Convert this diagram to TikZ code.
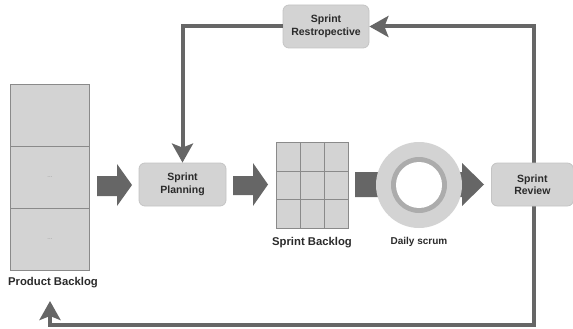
\documentclass[tikz,border=0pt]{standalone}
\usepackage{fontspec}
\setmainfont{Liberation Sans}
\usetikzlibrary{arrows.meta}
\definecolor{boxfill}{HTML}{D3D3D3}
\definecolor{boxline}{HTML}{C4C4C4}
\definecolor{darkg}{HTML}{666666}
\definecolor{gridline}{HTML}{8A8A8A}
\definecolor{txt}{HTML}{2A2A2A}
\tikzset{
  stepbox/.style={draw=boxline, fill=boxfill, rounded corners=6pt, line width=0.8pt,
    text=txt, font=\bfseries\fontsize{10.5}{12.5}\selectfont, align=center, inner sep=0pt},
  lbl/.style={text=txt, font=\bfseries\fontsize{11.3}{13}\selectfont, inner sep=0pt},
  loopline/.style={draw=darkg, line width=4pt, -{Stealth[length=19pt,width=21pt,inset=4pt]}},
  blockarrow/.style={fill=darkg},
  cell/.style={draw=gridline, fill=boxfill, line width=0.8pt},
  dots/.style={text=gray!85, font=\fontsize{6}{7}\selectfont}
}
\begin{document}
\begin{tikzpicture}[x=1pt,y=-1pt]
\useasboundingbox (0,0) rectangle (573,329);
% product backlog
\node[cell, minimum width=79pt, minimum height=62pt, inner sep=0pt, anchor=north west] (pb1) at (10,84) {};
\node[cell, dots, minimum width=79pt, minimum height=62pt, inner sep=0pt, anchor=north west] (pb2) at (10,146) {...};
\node[cell, dots, minimum width=79pt, minimum height=62pt, inner sep=0pt, anchor=north west] (pb3) at (10,208) {...};
\node[lbl] (pbl) at (53,283) {Product Backlog};
\coordinate (pbin) at (50,301);
% block arrow 1
\fill[blockarrow] (97,176) -- (117,176) -- (117,164) -- (132,185) -- (117,206) -- (117,196) -- (97,196) -- cycle;
% sprint planning
\node[stepbox, minimum width=87pt, minimum height=43pt] (sp) at (182.5,184.5) {Sprint\\Planning};
% block arrow 2
\fill[blockarrow] (233,176) -- (253,176) -- (253,163) -- (268,184.5) -- (253,206) -- (253,195) -- (233,195) -- cycle;
% sprint backlog grid
\foreach \i in {0,1,2}{
  \foreach \j in {0,1,2}{
    \node[cell, minimum width=24pt, minimum height=28.67pt, inner sep=0pt, anchor=north west] (sb\i\j) at ({276+24*\i},{142+28.67*\j}) {};
  }
}
\node[lbl] (sbl) at (312,243) {Sprint Backlog};
% block arrow 3 (behind ring)
\fill[blockarrow] (355,172) -- (462,172) -- (462,163) -- (484,184.5) -- (462,206) -- (462,197) -- (355,197) -- cycle;
% daily scrum ring
\node[circle, fill=boxfill, minimum size=86pt, inner sep=0pt] (ds) at (419,185) {};
\node[circle, fill=gray!65, minimum size=56pt, inner sep=0pt] (dsm) at (ds.center) {};
\node[circle, fill=white, minimum size=46pt, inner sep=0pt] (dsi) at (ds.center) {};
\node[lbl, font=\bfseries\fontsize{10}{12}\selectfont] (dsl) at (419,242) {Daily scrum};
% loop lines (behind review box)
\coordinate (revtop) at (534,170);
\coordinate (revbot) at (534,200);
\node[stepbox, minimum width=86pt, minimum height=43pt] (sr) at (326,26.5) {Sprint\\Restropective};
\draw[loopline] (revtop) |- (sr.east);
\draw[loopline] (sr.west) -| (sp.north);
\draw[loopline] (revbot) |- (50,325) -- (pbin);
% sprint review
\node[stepbox, minimum width=82pt, minimum height=43pt, anchor=west] (rev) at (491,184.5) {Sprint\\Review};
\end{tikzpicture}
\end{document}
